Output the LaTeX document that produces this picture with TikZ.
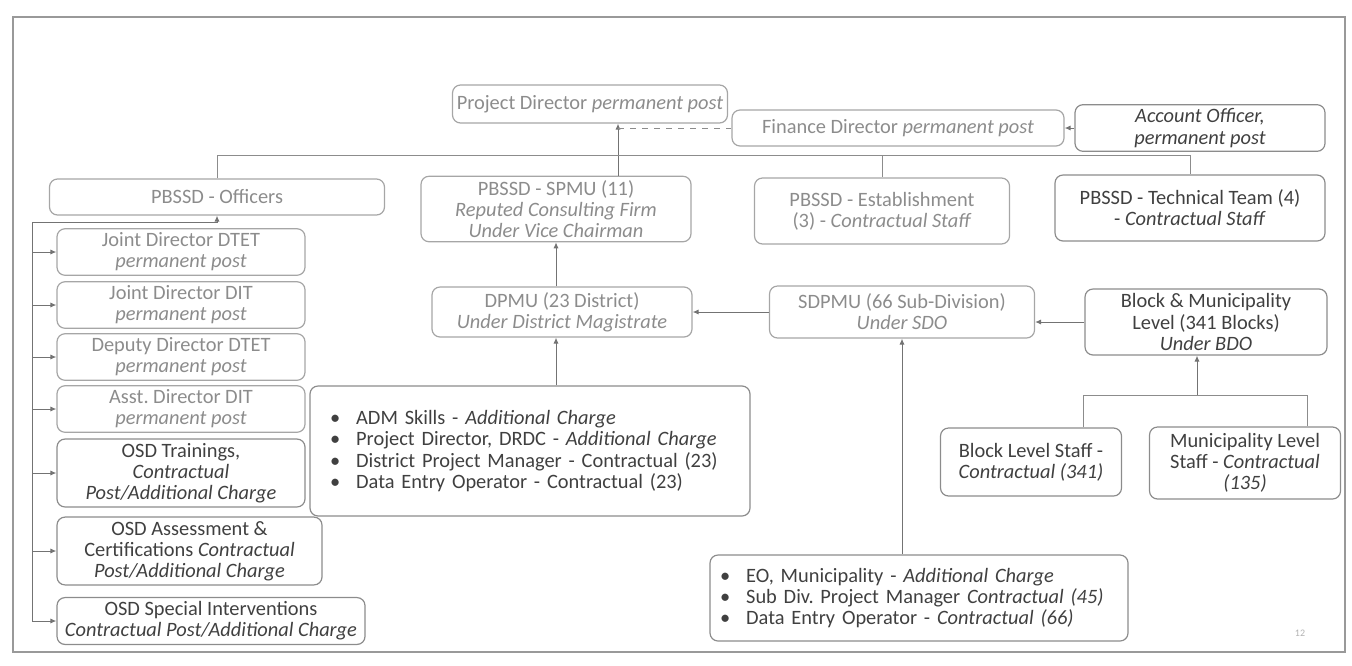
\documentclass[tikz,border=0pt]{standalone}
\usepackage{fontspec}
\setmainfont{Carlito}
\usetikzlibrary{arrows.meta}
\newcommand{\fs}{\fontsize{10.2}{10.6}\selectfont}
\frenchspacing

\tikzset{
  unit/.style={draw=black!45, rounded corners=4pt, align=center, inner sep=2pt,
    font=\fs, text=black!75, line width=0.6pt},
  faded/.style={unit, draw=black!35, text=black!45},
  listbox/.style={unit, align=left, inner xsep=10pt},
  link/.style={draw=black!55, line width=0.5pt, -{Latex[length=3pt,width=2.6pt]}},
  plain/.style={draw=black!45, line width=0.5pt},
}

\begin{document}
\begin{tikzpicture}[x=0.5pt,y=-0.5pt]
\useasboundingbox (0,0) rectangle (1352,665);
% page frame
\draw[black!40, line width=0.6pt] (13,17) rectangle (1345,652);

% top
\node[faded, minimum width=137.5pt, minimum height=19pt] (pd) at (590,104) {Project Director \textit{permanent post}};
\node[faded, minimum width=166pt, minimum height=18pt] (fd) at (898,128) {Finance Director \textit{permanent post}};
\node[unit, minimum width=125pt, minimum height=20pt] (ao) at (1200,128) {\textit{Account Officer,}\\\textit{permanent post}};

% PBSSD row
\node[faded, minimum width=167.5pt, minimum height=18pt] (off) at (217,197) {PBSSD - Officers};
\node[faded, minimum width=135pt, minimum height=32pt] (spmu) at (556,209) {PBSSD - SPMU (11)\\\textit{Reputed Consulting Firm}\\\textit{Under Vice Chairman}};
\node[faded, minimum width=127.5pt, minimum height=33pt] (est) at (882,211) {PBSSD - Establishment\\(3) - \textit{Contractual Staff}};
\node[unit, minimum width=135pt, minimum height=33pt] (tech) at (1190,208) {PBSSD - Technical Team (4)\\- \textit{Contractual Staff}};

% officers column
\node[faded, minimum width=124pt, minimum height=22pt] (jdtet) at (181,252) {Joint Director DTET\\\textit{permanent post}};
\node[faded, minimum width=124pt, minimum height=21.5pt] (jdit) at (181,305) {Joint Director DIT\\\textit{permanent post}};
\node[faded, minimum width=124pt, minimum height=20.5pt] (ddtet) at (181,357) {Deputy Director DTET\\\textit{permanent post}};
\node[faded, minimum width=124pt, minimum height=21.5pt] (adit) at (181,409) {Asst. Director DIT\\\textit{permanent post}};
\node[unit, minimum width=124pt, minimum height=31.5pt] (osdt) at (181,473) {OSD Trainings,\\\textit{Contractual}\\\textit{Post/Additional Charge}};
\node[unit, minimum width=132.5pt, minimum height=32.5pt] (osda) at (189.5,551) {OSD Assessment \&\\Certifications \textit{Contractual}\\\textit{Post/Additional Charge}};
\node[unit, minimum width=154pt, minimum height=23pt] (osds) at (211,621) {OSD Special Interventions\\\textit{Contractual Post/Additional Charge}};

% district and below
\node[faded, minimum width=130pt, minimum height=25pt] (dpmu) at (562,312) {DPMU (23 District)\\\textit{Under District Magistrate}};
\node[faded, minimum width=132.5pt, minimum height=26pt] (sdpmu) at (902,312) {SDPMU (66 Sub-Division)\\\textit{Under SDO}};
\node[unit, minimum width=121pt, minimum height=33pt] (bm) at (1206,322) {Block \& Municipality\\Level (341 Blocks)\\\textit{Under BDO}};
\node[listbox, text width=200pt, minimum height=65pt] (dlist) at (530,451) {%
  \textbullet\hspace{8pt}ADM Skills - \textit{Additional Charge}\\
  \textbullet\hspace{8pt}Project Director, DRDC - \textit{Additional Charge}\\
  \textbullet\hspace{8pt}District Project Manager - Contractual (23)\\
  \textbullet\hspace{8pt}Data Entry Operator - Contractual (23)};
\node[listbox, text width=199pt, inner xsep=5pt, minimum height=43pt] (slist) at (919,598) {%
  \textbullet\hspace{8pt}EO, Municipality - \textit{Additional Charge}\\
  \textbullet\hspace{8pt}Sub Div. Project Manager \textit{Contractual (45)}\\
  \textbullet\hspace{8pt}Data Entry Operator - \textit{Contractual (66)}};
\node[unit, minimum width=90.5pt, minimum height=34pt] (bls) at (1031,462) {Block Level Staff -\\\textit{Contractual (341)}};
\node[unit, minimum width=95.5pt, minimum height=36pt] (mls) at (1245,463) {Municipality Level\\Staff - \textit{Contractual}\\\textit{(135)}};

\node[text=black!30, font=\tiny] (pg) at (1300,633) {12};

% connectors
\coordinate (trunk) at (618,150);
\coordinate (bus) at (0,155);
\coordinate (spine) at (32,0);
\coordinate (offdrop) at (217,222);
\coordinate (lb) at (1083,395);
\coordinate (rb) at (1307,395);
\coordinate (bmdrop) at (1197,395);

\draw[link] (spmu.north -| trunk) -- (pd.south -| trunk);
\draw[plain, dashed] (trunk |- fd.west) -- (fd.west);
\draw[link] (ao.west) -- (fd.east);
\draw[plain] (off.north) -- (off.north |- bus) -- (tech.north |- bus) -- (tech.north);
\draw[plain] (est.north |- bus) -- (est.north);

\draw[link] (spine |- osds.west) -- (spine |- offdrop) -- (offdrop) -- (off.south);
\foreach \n in {jdtet,jdit,ddtet,adit,osdt,osda,osds}
  \draw[link] (spine |- \n.west) -- (\n.west);

\draw[link] (dpmu.north -| spmu.south) -- (spmu.south);
\draw[link] (dlist.north -| spmu.south) -- (dpmu.south -| spmu.south);
\draw[link] (sdpmu.west) -- (dpmu.east |- sdpmu.west);
\draw[link] (bm.west) -- (sdpmu.east |- bm.west);
\draw[link] (slist.north -| sdpmu.south) -- (sdpmu.south);
\draw[link] (bmdrop) -- (bm.south -| bmdrop);
\draw[plain] (bls.north -| lb) -- (lb) -- (rb) -- (mls.north -| rb);
\end{tikzpicture}
\end{document}
